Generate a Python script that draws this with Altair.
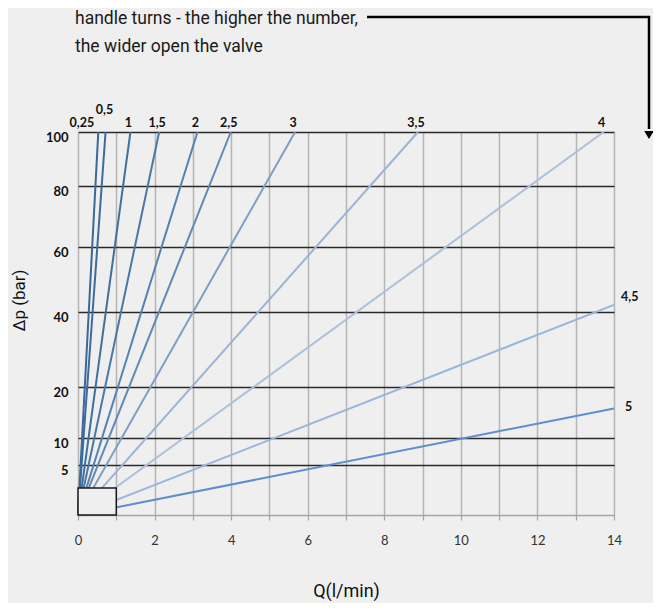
import altair as alt
import pandas as pd

# ---- data ----
turns = ["0,25", "0,5", "1", "1,5", "2", "2,5", "3", "3,5", "4", "4,5", "5"]
end_q = [0.53, 0.72, 1.37, 2.12, 3.12, 3.99, 5.67, 8.88, 13.73, 14.0, 14.0]
end_dp = [100, 100, 100, 100, 100, 100, 100, 100, 100, 42.2, 15.8]
line_colors = ["#3a6999", "#3d6c9c", "#41709f", "#4a78a6", "#5682b0", "#6089b5",
               "#7f9ec3", "#9cb4d2", "#adc0da", "#98b6dc", "#5e8ecf"]
dp_ticks = [5, 10, 20, 40, 60, 80, 100]
dp_breaks = [0, 5, 10, 20, 40, 60, 80, 100]
q_ticks = list(range(0, 15))
box_q = [0, 1]
box_dp = [0, 2.7]
note_lines = ["handle turns - the higher the number,", "the wider open the valve"]

BG = "#efefef"

rows = []
for t, q, p in zip(turns, end_q, end_dp):
    rows.append({"turn": t, "q": 0.0, "dp": 0.0, "o": 0})
    rows.append({"turn": t, "q": q, "dp": p, "o": 1})
df_lines = pd.DataFrame(rows)
df_lab = pd.DataFrame({"turn": turns, "q": end_q, "dp": end_dp})
df_box = pd.DataFrame({"q0": [box_q[0]], "q1": [box_q[1]], "d0": [box_dp[0]], "d1": [box_dp[1]]})
dummy = pd.DataFrame({"a": [0]})

xscale = alt.Scale(domain=[0, 14], nice=False, zero=False)
yscale = alt.Scale(domain=dp_breaks, range=[383, 333, 306, 255, 180, 115, 54, 0],
                   nice=False, zero=False)

xaxis = alt.Axis(values=q_ticks, labelExpr="datum.value % 2 == 0 ? datum.label : ''",
                 title="Q(l/min)", grid=True, gridColor="#b5b5b5", gridWidth=1.5,
                 domain=True, domainColor="#a5a5a5", domainWidth=1.5,
                 ticks=True, tickColor="#a5a5a5", tickSize=5, tickWidth=1.2,
                 labelFont="Lato", labelFontSize=13, labelColor="#333333", labelPadding=14,
                 labelFlush=False, labelOverlap=False,
                 titleFont="Roboto", titleFontSize=18, titleFontWeight="normal",
                 titleColor="#111111", titlePadding=35)
yaxis = alt.Axis(values=dp_ticks, title="Δp (bar)", grid=True, gridColor="#2a2a2a",
                 gridWidth=1.3, domain=False, ticks=False,
                 labelFont="Lato", labelFontWeight="bold", labelFontSize=13,
                 labelColor="#111111", labelPadding=10, labelOffset=5,
                 labelFlush=False, labelOverlap=False,
                 titleFont="Roboto", titleFontSize=17, titleFontWeight="normal",
                 titleColor="#111111", titleX=-50, titleY=168)


def X(f="q:Q"):
    return alt.X(f, scale=xscale, axis=xaxis)


def Y(f="dp:Q"):
    return alt.Y(f, scale=yscale, axis=yaxis)


lines = alt.Chart(df_lines).mark_line(strokeWidth=2).encode(
    x=X(), y=Y(),
    color=alt.Color("turn:N", scale=alt.Scale(domain=turns, range=line_colors), legend=None),
    order="o:Q",
)

box = alt.Chart(df_box).mark_rect(fill=BG, stroke="#1a1a1a", strokeWidth=1.5).encode(
    x=X("q0:Q"), x2="q1:Q", y=Y("d0:Q"), y2="d1:Q"
)

txt = dict(font="Lato", fontWeight="bold", fontSize=12.5, color="#111111")

top_labels = alt.Chart(df_lab).transform_filter(
    "datum.dp >= 100 && datum.turn != '0,25' && datum.turn != '0,5'"
).mark_text(baseline="alphabetic", align="center", dy=-5, dx=-2, **txt).encode(
    x=X(), y=Y(), text="turn:N")

lab_025 = alt.Chart(df_lab).transform_filter("datum.turn == '0,25'").mark_text(
    baseline="alphabetic", align="right", dy=-5, dx=-4, **txt).encode(x=X(), y=Y(), text="turn:N")

lab_05 = alt.Chart(df_lab).transform_filter("datum.turn == '0,5'").mark_text(
    baseline="alphabetic", align="center", dy=-18, dx=-1, **txt).encode(x=X(), y=Y(), text="turn:N")

lab_45 = alt.Chart(df_lab).transform_filter("datum.turn == '4,5'").mark_text(
    baseline="middle", align="left", dy=-8, dx=7, **txt).encode(x=X(), y=Y(), text="turn:N")

lab_5 = alt.Chart(df_lab).transform_filter("datum.turn == '5'").mark_text(
    baseline="middle", align="left", dy=-1, dx=11, **txt).encode(x=X(), y=Y(), text="turn:N")

note1 = alt.Chart(dummy).mark_text(text=note_lines[0], align="left", baseline="middle",
                                   font="Roboto", fontSize=17.5, color="#1a1a1a").encode(
    x=alt.value(-3), y=alt.value(-113))
note2 = alt.Chart(dummy).mark_text(text=note_lines[1], align="left", baseline="middle",
                                   font="Roboto", fontSize=17.5, color="#1a1a1a").encode(
    x=alt.value(-3), y=alt.value(-85))

arrow_h = alt.Chart(dummy).mark_rule(color="#000000", strokeWidth=2.5).encode(
    x=alt.value(289), x2=alt.value(572), y=alt.value(-115))
arrow_v = alt.Chart(dummy).mark_rule(color="#000000", strokeWidth=2.5).encode(
    x=alt.value(571), y=alt.value(-116), y2=alt.value(-3))
arrow_head = alt.Chart(dummy).mark_point(shape="triangle-down", filled=True, size=90,
                                         color="#000000", opacity=1).encode(
    x=alt.value(571), y=alt.value(3))

chart = alt.layer(
    lines, box, top_labels, lab_025, lab_05, lab_45, lab_5,
    note1, note2, arrow_h, arrow_v, arrow_head
).properties(
    width=536, height=383,
    autosize=alt.AutoSizeParams(type="none"),
    padding={"left": 70, "top": 124, "right": 39, "bottom": 88},
    background=BG,
).configure_view(strokeWidth=0)

chart.save("out.html", embed_options={"renderer": "svg", "actions": False})
